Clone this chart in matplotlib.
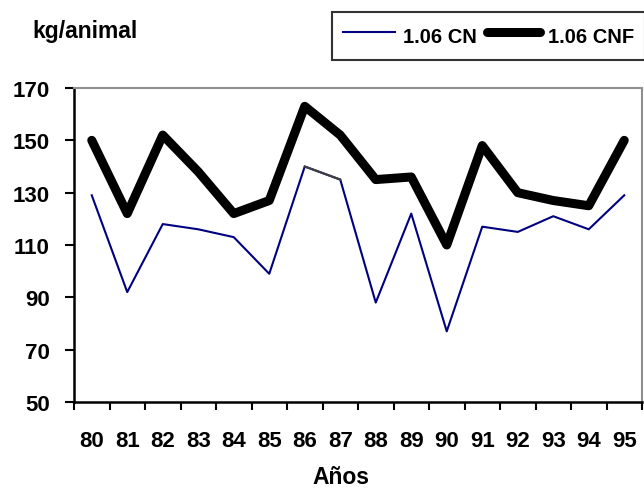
import numpy as np
import matplotlib
matplotlib.use("Agg")
import matplotlib.pyplot as plt

plt.rcParams['font.family'] = ['Liberation Sans', 'DejaVu Sans']
plt.rcParams['font.weight'] = 'bold'

# data
years = ["80", "81", "82", "83", "84", "85", "86", "87",
         "88", "89", "90", "91", "92", "93", "94", "95"]
cn = [129, 92, 118, 116, 113, 99, 140, 135,
      88, 122, 77, 117, 115, 121, 116, 129]
cnf = [150, 122, 152, 138, 122, 127, 163, 152,
       135, 136, 110, 148, 130, 127, 125, 150]
y_ticks = [50, 70, 90, 110, 130, 150, 170]

x = np.arange(len(years))

fig = plt.figure(figsize=(6.44, 4.89), dpi=100)
ax = fig.add_axes([74 / 644, 1 - 403 / 489, 568 / 644, 314 / 489])

ax.plot(x, cn, color='#000080', linewidth=1.5, label='1.06 CN')
# the 86-87 segment shows up dark grey in the original
ax.plot(x[6:8], cn[6:8], color='#404040', linewidth=1.5)
ax.plot(x, cnf, color='black', linewidth=6.5, label='1.06 CNF',
        solid_capstyle='round', solid_joinstyle='round')

ax.set_xlim(-0.5, len(years) - 0.5)
ax.set_ylim(50, 170)
ax.set_yticks(y_ticks)
ax.set_yticklabels([str(v) for v in y_ticks], fontsize=16, fontweight='bold')

# ticks between categories, labels at the centres
ax.set_xticks(np.arange(-0.5, len(years), 1.0))
ax.set_xticklabels([])
ax.set_xticks(x, minor=True)
ax.set_xticklabels(years, minor=True, fontsize=16, fontweight='bold')
ax.tick_params(axis='x', which='minor', length=0, pad=20)
ax.tick_params(axis='x', which='major', direction='out', length=6, width=1.5)
ax.tick_params(axis='y', direction='out', length=6.5, width=1.5, pad=11)

for side in ['left', 'bottom']:
    ax.spines[side].set_color('black')
    ax.spines[side].set_linewidth(1.8)
for side in ['top', 'right']:
    ax.spines[side].set_color('#909090')
    ax.spines[side].set_linewidth(1.5)

fig.text(341 / 644, 1 - 484 / 489, 'Años', fontsize=16.5, fontweight='bold',
         ha='center', va='baseline')
fig.text(32 / 644, 1 - 38 / 489, 'kg/animal', fontsize=16.5,
         fontweight='bold', ha='left', va='baseline')

leg = ax.legend(loc='upper right', bbox_to_anchor=(645 / 644, 1 - 12.5 / 489),
                bbox_transform=fig.transFigure, ncol=2, frameon=True,
                fancybox=False, handlelength=2.6, handletextpad=0.4,
                handleheight=1.6, columnspacing=0.5, borderpad=0.55,
                borderaxespad=0, prop={'size': 14.5, 'weight': 'bold'})
leg.get_frame().set_edgecolor('black')
leg.get_frame().set_linewidth(1.5)

fig.savefig('out.png', dpi=100)
